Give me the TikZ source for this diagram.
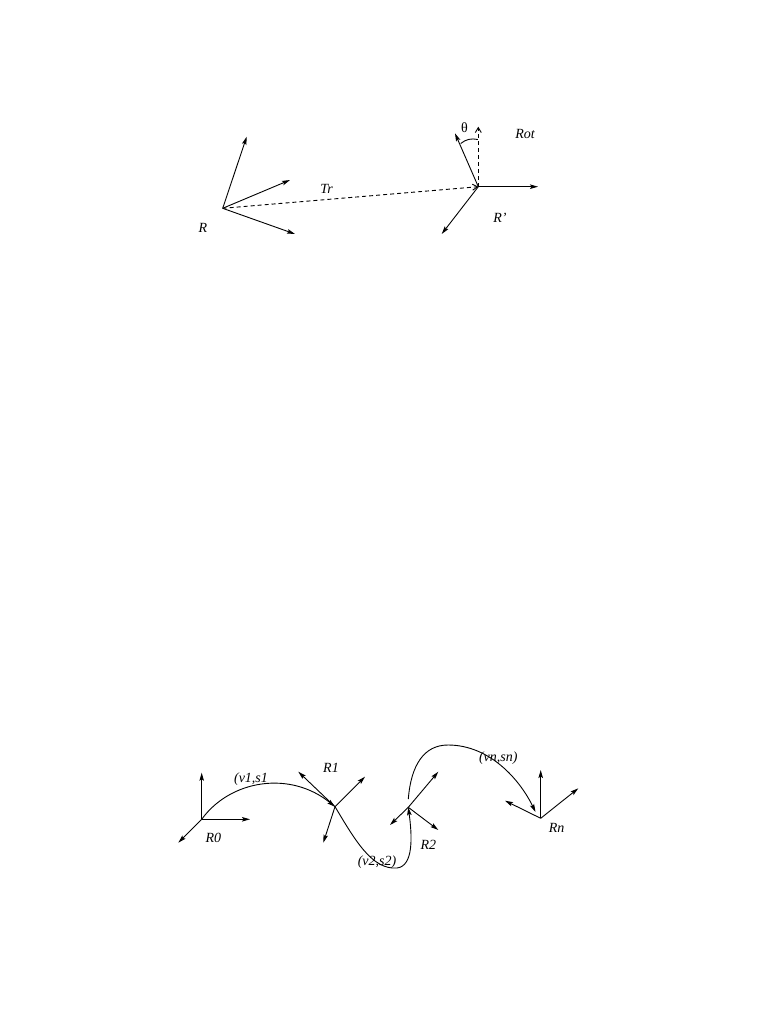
\documentclass[tikz,border=0pt]{standalone}
\usepackage{fontspec}
\setmainfont{Liberation Serif}
\usetikzlibrary{arrows.meta}
\begin{document}
\begin{tikzpicture}[x=1pt,y=-1pt,
  vec/.style={line width=0.9pt,-{Stealth[length=8pt,width=4.5pt,inset=1.5pt]}},
  dvec/.style={line width=0.9pt,dash pattern=on 4pt off 3pt,-{Straight Barb[length=5pt,width=6pt]}},
  lab/.style={inner sep=0pt,font=\fontsize{14}{16}\selectfont\itshape},
  traj/.style={line width=0.9pt,-{Stealth[length=8pt,width=4.5pt,inset=1.5pt]}}]
\useasboundingbox (0,0) rectangle (782,1012);
% ---- top figure ----
\coordinate (R) at (222.7,208.3);
\coordinate (Ra) at (246.7,136.7);
\coordinate (Rb) at (290,180);
\coordinate (Rc) at (295,234);
\coordinate (Rp) at (478.3,186.7);
\coordinate (Rpa) at (538,186.7);
\coordinate (Rpb) at (441.7,234);
\coordinate (Rpc) at (455,133.3);
\coordinate (Rpd) at (478.3,126.7);
\coordinate (A1) at (460.7,143.5);
\coordinate (A2) at (477.8,139.5);
\draw[vec] (R) -- (Ra);
\draw[vec] (R) -- (Rb);
\draw[vec] (R) -- (Rc);
\draw[dvec] (R) -- (Rp);
\draw[vec] (Rp) -- (Rpa);
\draw[vec] (Rp) -- (Rpb);
\draw[vec] (Rp) -- (Rpc);
\draw[dvec] (Rp) -- (Rpd);
\draw[line width=0.9pt] (A1) to[bend left=25] (A2);
\node[lab] (lR) at (203,228) {R};
\node[lab] (lTr) at (326.7,189) {Tr};
\node[lab] (lRp) at (500,218) {R'};
\node[lab] (lRot) at (525,134) {Rot};
\node[inner sep=0pt,font=\fontsize{14}{16}\selectfont] (lth) at (464.5,128) {θ};
% ---- bottom figure ----
\coordinate (R0) at (201.7,819.3);
\draw[vec] (R0) -- (201.7,772.7) coordinate (R0a);
\draw[vec] (R0) -- (250,819.3) coordinate (R0b);
\draw[vec] (R0) -- (178.3,842.7) coordinate (R0c);
\coordinate (R1) at (335,806.7);
\draw[vec] (R1) -- (298.3,771.7) coordinate (R1a);
\draw[vec] (R1) -- (365,776.7) coordinate (R1b);
\draw[vec] (R1) -- (323.3,842.7) coordinate (R1c);
\coordinate (R2) at (408.3,807.3);
\draw[vec] (R2) -- (438.3,771.7) coordinate (R2a);
\draw[vec] (R2) -- (390,825) coordinate (R2b);
\draw[vec] (R2) -- (438.3,830) coordinate (R2c);
\coordinate (R2s) at (408.3,799);
\coordinate (Rn) at (540.7,818.3);
\draw[vec] (Rn) -- (540.7,770) coordinate (Rna);
\draw[vec] (Rn) -- (505,800.7) coordinate (Rnb);
\draw[vec] (Rn) -- (578.3,788.3) coordinate (Rnc);
% trajectories
\draw[traj] (R0) .. controls (230,780) and (290,770) .. (R1);
\coordinate (B2) at (397,868);
\draw[traj] (R1) .. controls (355,840) and (372,870) .. (B2) .. controls (414,866) and (412,835) .. (R2);
\coordinate (T3) at (448,745);
\coordinate (RnE) at (535.5,812);
\draw[traj] (R2s) .. controls (411,765) and (424,745) .. (T3) .. controls (490,745) and (520,780) .. (RnE);
\node[lab] (lR0) at (213.3,838.3) {R0};
\node[lab] (lR1) at (331,767.5) {R1};
\node[lab] (lR2) at (428.3,845) {R2};
\node[lab] (lRn) at (556.7,828.3) {Rn};
\node[lab] (lv1) at (251,779.5) {(v1,s1};
\node[lab] (lv2) at (377,862) {(v2,s2)};
\node[lab] (lvn) at (498.3,758.3) {(vn,sn)};
\end{tikzpicture}
\end{document}
